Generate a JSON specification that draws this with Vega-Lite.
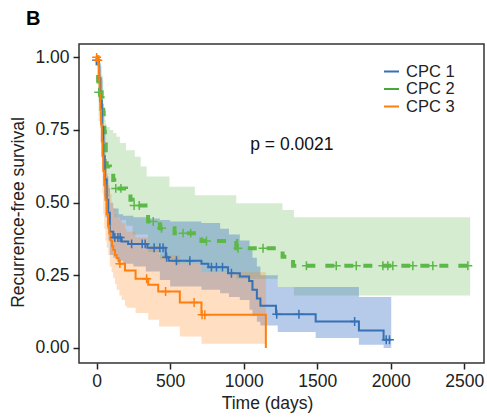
{
  "$schema": "https://vega.github.io/schema/vega-lite/v6.json",
  "width": 405,
  "height": 319,
  "autosize": {"type": "none"},
  "padding": {"left": 79, "top": 44, "right": 3, "bottom": 55},
  "background": "white",
  "title": {"text": "B", "anchor": "start", "frame": "group", "dx": -53, "dy": 20, "fontSize": 20, "fontWeight": "bold", "font": "Liberation Sans", "color": "#000", "baseline": "alphabetic", "offset": 19},
  "datasets": {
    "curve": [
      {"g": "CPC 1", "t": 0, "s": 1.0}, {"g": "CPC 1", "t": 5, "s": 0.985}, {"g": "CPC 1", "t": 15, "s": 0.93}, {"g": "CPC 1", "t": 25, "s": 0.85}, {"g": "CPC 1", "t": 35, "s": 0.76}, {"g": "CPC 1", "t": 45, "s": 0.66}, {"g": "CPC 1", "t": 55, "s": 0.58}, {"g": "CPC 1", "t": 68, "s": 0.51}, {"g": "CPC 1", "t": 79, "s": 0.465}, {"g": "CPC 1", "t": 90, "s": 0.40}, {"g": "CPC 1", "t": 113, "s": 0.38}, {"g": "CPC 1", "t": 170, "s": 0.366}, {"g": "CPC 1", "t": 215, "s": 0.358}, {"g": "CPC 1", "t": 345, "s": 0.345}, {"g": "CPC 1", "t": 470, "s": 0.312}, {"g": "CPC 1", "t": 490, "s": 0.30}, {"g": "CPC 1", "t": 713, "s": 0.29}, {"g": "CPC 1", "t": 760, "s": 0.278}, {"g": "CPC 1", "t": 894, "s": 0.257}, {"g": "CPC 1", "t": 974, "s": 0.246}, {"g": "CPC 1", "t": 1037, "s": 0.23}, {"g": "CPC 1", "t": 1060, "s": 0.20}, {"g": "CPC 1", "t": 1090, "s": 0.17}, {"g": "CPC 1", "t": 1114, "s": 0.145}, {"g": "CPC 1", "t": 1220, "s": 0.116}, {"g": "CPC 1", "t": 1490, "s": 0.091}, {"g": "CPC 1", "t": 1784, "s": 0.060}, {"g": "CPC 1", "t": 1952, "s": 0.028}, {"g": "CPC 1", "t": 2004, "s": 0.028},
      {"g": "CPC 2", "t": 0, "s": 1.0}, {"g": "CPC 2", "t": 6, "s": 0.96}, {"g": "CPC 2", "t": 10, "s": 0.92}, {"g": "CPC 2", "t": 13, "s": 0.88}, {"g": "CPC 2", "t": 34, "s": 0.86}, {"g": "CPC 2", "t": 40, "s": 0.84}, {"g": "CPC 2", "t": 45, "s": 0.81}, {"g": "CPC 2", "t": 48, "s": 0.78}, {"g": "CPC 2", "t": 52, "s": 0.744}, {"g": "CPC 2", "t": 56, "s": 0.70}, {"g": "CPC 2", "t": 62, "s": 0.66}, {"g": "CPC 2", "t": 68, "s": 0.624}, {"g": "CPC 2", "t": 90, "s": 0.60}, {"g": "CPC 2", "t": 113, "s": 0.578}, {"g": "CPC 2", "t": 120, "s": 0.549}, {"g": "CPC 2", "t": 200, "s": 0.53}, {"g": "CPC 2", "t": 230, "s": 0.51}, {"g": "CPC 2", "t": 245, "s": 0.49}, {"g": "CPC 2", "t": 350, "s": 0.435}, {"g": "CPC 2", "t": 430, "s": 0.412}, {"g": "CPC 2", "t": 530, "s": 0.395}, {"g": "CPC 2", "t": 713, "s": 0.368}, {"g": "CPC 2", "t": 950, "s": 0.343}, {"g": "CPC 2", "t": 1265, "s": 0.314}, {"g": "CPC 2", "t": 1336, "s": 0.283}, {"g": "CPC 2", "t": 2541, "s": 0.283},
      {"g": "CPC 3", "t": 0, "s": 1.0}, {"g": "CPC 3", "t": 11, "s": 0.98}, {"g": "CPC 3", "t": 15, "s": 0.93}, {"g": "CPC 3", "t": 20, "s": 0.88}, {"g": "CPC 3", "t": 25, "s": 0.82}, {"g": "CPC 3", "t": 30, "s": 0.77}, {"g": "CPC 3", "t": 35, "s": 0.71}, {"g": "CPC 3", "t": 40, "s": 0.66}, {"g": "CPC 3", "t": 45, "s": 0.61}, {"g": "CPC 3", "t": 52, "s": 0.56}, {"g": "CPC 3", "t": 60, "s": 0.51}, {"g": "CPC 3", "t": 68, "s": 0.46}, {"g": "CPC 3", "t": 78, "s": 0.42}, {"g": "CPC 3", "t": 86, "s": 0.395}, {"g": "CPC 3", "t": 95, "s": 0.37}, {"g": "CPC 3", "t": 105, "s": 0.35}, {"g": "CPC 3", "t": 113, "s": 0.337}, {"g": "CPC 3", "t": 125, "s": 0.32}, {"g": "CPC 3", "t": 136, "s": 0.309}, {"g": "CPC 3", "t": 148, "s": 0.30}, {"g": "CPC 3", "t": 155, "s": 0.29}, {"g": "CPC 3", "t": 193, "s": 0.266}, {"g": "CPC 3", "t": 265, "s": 0.238}, {"g": "CPC 3", "t": 351, "s": 0.217}, {"g": "CPC 3", "t": 419, "s": 0.194}, {"g": "CPC 3", "t": 566, "s": 0.156}, {"g": "CPC 3", "t": 713, "s": 0.114}, {"g": "CPC 3", "t": 1151, "s": 0.0}
    ],
    "band": [
      {"g": "CPC 1", "t": 0, "lo": 1, "hi": 1}, {"g": "CPC 1", "t": 20, "lo": 0.86, "hi": 0.98}, {"g": "CPC 1", "t": 30, "lo": 0.76, "hi": 0.93}, {"g": "CPC 1", "t": 40, "lo": 0.64, "hi": 0.84}, {"g": "CPC 1", "t": 50, "lo": 0.52, "hi": 0.74}, {"g": "CPC 1", "t": 60, "lo": 0.45, "hi": 0.65}, {"g": "CPC 1", "t": 70, "lo": 0.41, "hi": 0.59}, {"g": "CPC 1", "t": 80, "lo": 0.37, "hi": 0.55}, {"g": "CPC 1", "t": 90, "lo": 0.32, "hi": 0.50}, {"g": "CPC 1", "t": 113, "lo": 0.31, "hi": 0.48}, {"g": "CPC 1", "t": 150, "lo": 0.30, "hi": 0.46}, {"g": "CPC 1", "t": 180, "lo": 0.29, "hi": 0.455}, {"g": "CPC 1", "t": 250, "lo": 0.28, "hi": 0.45}, {"g": "CPC 1", "t": 335, "lo": 0.263, "hi": 0.445}, {"g": "CPC 1", "t": 430, "lo": 0.234, "hi": 0.44}, {"g": "CPC 1", "t": 500, "lo": 0.211, "hi": 0.435}, {"g": "CPC 1", "t": 713, "lo": 0.20, "hi": 0.43}, {"g": "CPC 1", "t": 840, "lo": 0.188, "hi": 0.41}, {"g": "CPC 1", "t": 900, "lo": 0.175, "hi": 0.39}, {"g": "CPC 1", "t": 974, "lo": 0.165, "hi": 0.37}, {"g": "CPC 1", "t": 1040, "lo": 0.131, "hi": 0.34}, {"g": "CPC 1", "t": 1060, "lo": 0.11, "hi": 0.31}, {"g": "CPC 1", "t": 1090, "lo": 0.09, "hi": 0.28}, {"g": "CPC 1", "t": 1114, "lo": 0.077, "hi": 0.25}, {"g": "CPC 1", "t": 1232, "lo": 0.055, "hi": 0.21}, {"g": "CPC 1", "t": 1490, "lo": 0.034, "hi": 0.21}, {"g": "CPC 1", "t": 1784, "lo": 0.011, "hi": 0.175}, {"g": "CPC 1", "t": 1952, "lo": 0.0, "hi": 0.175}, {"g": "CPC 1", "t": 2004, "lo": 0.0, "hi": 0.175},
      {"g": "CPC 2", "t": 0, "lo": 1, "hi": 1}, {"g": "CPC 2", "t": 10, "lo": 0.85, "hi": 1.0}, {"g": "CPC 2", "t": 13, "lo": 0.78, "hi": 0.97}, {"g": "CPC 2", "t": 34, "lo": 0.76, "hi": 0.94}, {"g": "CPC 2", "t": 40, "lo": 0.73, "hi": 0.92}, {"g": "CPC 2", "t": 45, "lo": 0.70, "hi": 0.80}, {"g": "CPC 2", "t": 52, "lo": 0.64, "hi": 0.80}, {"g": "CPC 2", "t": 56, "lo": 0.59, "hi": 0.784}, {"g": "CPC 2", "t": 62, "lo": 0.55, "hi": 0.77}, {"g": "CPC 2", "t": 68, "lo": 0.52, "hi": 0.76}, {"g": "CPC 2", "t": 90, "lo": 0.50, "hi": 0.75}, {"g": "CPC 2", "t": 113, "lo": 0.475, "hi": 0.74}, {"g": "CPC 2", "t": 120, "lo": 0.45, "hi": 0.74}, {"g": "CPC 2", "t": 135, "lo": 0.45, "hi": 0.727}, {"g": "CPC 2", "t": 158, "lo": 0.44, "hi": 0.705}, {"g": "CPC 2", "t": 200, "lo": 0.42, "hi": 0.68}, {"g": "CPC 2", "t": 245, "lo": 0.39, "hi": 0.68}, {"g": "CPC 2", "t": 260, "lo": 0.39, "hi": 0.658}, {"g": "CPC 2", "t": 300, "lo": 0.39, "hi": 0.624}, {"g": "CPC 2", "t": 340, "lo": 0.39, "hi": 0.59}, {"g": "CPC 2", "t": 350, "lo": 0.33, "hi": 0.59}, {"g": "CPC 2", "t": 430, "lo": 0.305, "hi": 0.59}, {"g": "CPC 2", "t": 495, "lo": 0.305, "hi": 0.555}, {"g": "CPC 2", "t": 530, "lo": 0.29, "hi": 0.555}, {"g": "CPC 2", "t": 668, "lo": 0.29, "hi": 0.525}, {"g": "CPC 2", "t": 713, "lo": 0.26, "hi": 0.525}, {"g": "CPC 2", "t": 950, "lo": 0.238, "hi": 0.498}, {"g": "CPC 2", "t": 1232, "lo": 0.21, "hi": 0.498}, {"g": "CPC 2", "t": 1264, "lo": 0.21, "hi": 0.475}, {"g": "CPC 2", "t": 1342, "lo": 0.18, "hi": 0.45}, {"g": "CPC 2", "t": 2541, "lo": 0.18, "hi": 0.45},
      {"g": "CPC 3", "t": 0, "lo": 1, "hi": 1}, {"g": "CPC 3", "t": 11, "lo": 0.94, "hi": 1.0}, {"g": "CPC 3", "t": 20, "lo": 0.80, "hi": 0.96}, {"g": "CPC 3", "t": 30, "lo": 0.66, "hi": 0.88}, {"g": "CPC 3", "t": 40, "lo": 0.53, "hi": 0.80}, {"g": "CPC 3", "t": 45, "lo": 0.46, "hi": 0.76}, {"g": "CPC 3", "t": 52, "lo": 0.41, "hi": 0.71}, {"g": "CPC 3", "t": 60, "lo": 0.37, "hi": 0.65}, {"g": "CPC 3", "t": 68, "lo": 0.345, "hi": 0.60}, {"g": "CPC 3", "t": 79, "lo": 0.32, "hi": 0.56}, {"g": "CPC 3", "t": 90, "lo": 0.28, "hi": 0.53}, {"g": "CPC 3", "t": 102, "lo": 0.26, "hi": 0.50}, {"g": "CPC 3", "t": 113, "lo": 0.24, "hi": 0.48}, {"g": "CPC 3", "t": 125, "lo": 0.22, "hi": 0.46}, {"g": "CPC 3", "t": 136, "lo": 0.20, "hi": 0.45}, {"g": "CPC 3", "t": 155, "lo": 0.18, "hi": 0.44}, {"g": "CPC 3", "t": 170, "lo": 0.165, "hi": 0.43}, {"g": "CPC 3", "t": 193, "lo": 0.145, "hi": 0.41}, {"g": "CPC 3", "t": 204, "lo": 0.138, "hi": 0.40}, {"g": "CPC 3", "t": 265, "lo": 0.12, "hi": 0.38}, {"g": "CPC 3", "t": 351, "lo": 0.097, "hi": 0.35}, {"g": "CPC 3", "t": 425, "lo": 0.074, "hi": 0.32}, {"g": "CPC 3", "t": 566, "lo": 0.039, "hi": 0.29}, {"g": "CPC 3", "t": 713, "lo": 0.014, "hi": 0.26}, {"g": "CPC 3", "t": 1151, "lo": 0.014, "hi": 0.26}
    ],
    "cens": [
      {"g": "CPC 1", "t": 0, "s": 0.99}, {"g": "CPC 1", "t": 124, "s": 0.38}, {"g": "CPC 1", "t": 145, "s": 0.38}, {"g": "CPC 1", "t": 160, "s": 0.38}, {"g": "CPC 1", "t": 238, "s": 0.358}, {"g": "CPC 1", "t": 310, "s": 0.358}, {"g": "CPC 1", "t": 330, "s": 0.358}, {"g": "CPC 1", "t": 391, "s": 0.345}, {"g": "CPC 1", "t": 430, "s": 0.345}, {"g": "CPC 1", "t": 452, "s": 0.345}, {"g": "CPC 1", "t": 476, "s": 0.312}, {"g": "CPC 1", "t": 543, "s": 0.30}, {"g": "CPC 1", "t": 634, "s": 0.30}, {"g": "CPC 1", "t": 781, "s": 0.278}, {"g": "CPC 1", "t": 815, "s": 0.278}, {"g": "CPC 1", "t": 856, "s": 0.278}, {"g": "CPC 1", "t": 917, "s": 0.257}, {"g": "CPC 1", "t": 1225, "s": 0.116}, {"g": "CPC 1", "t": 1376, "s": 0.116}, {"g": "CPC 1", "t": 1755, "s": 0.091}, {"g": "CPC 1", "t": 1970, "s": 0.028}, {"g": "CPC 1", "t": 1992, "s": 0.028},
      {"g": "CPC 2", "t": 14, "s": 0.88}, {"g": "CPC 2", "t": 130, "s": 0.549}, {"g": "CPC 2", "t": 165, "s": 0.549}, {"g": "CPC 2", "t": 255, "s": 0.49}, {"g": "CPC 2", "t": 290, "s": 0.49}, {"g": "CPC 2", "t": 385, "s": 0.435}, {"g": "CPC 2", "t": 441, "s": 0.412}, {"g": "CPC 2", "t": 588, "s": 0.395}, {"g": "CPC 2", "t": 640, "s": 0.395}, {"g": "CPC 2", "t": 747, "s": 0.368}, {"g": "CPC 2", "t": 962, "s": 0.343}, {"g": "CPC 2", "t": 1132, "s": 0.343}, {"g": "CPC 2", "t": 1427, "s": 0.283}, {"g": "CPC 2", "t": 1630, "s": 0.283}, {"g": "CPC 2", "t": 1766, "s": 0.283}, {"g": "CPC 2", "t": 1947, "s": 0.283}, {"g": "CPC 2", "t": 1981, "s": 0.283}, {"g": "CPC 2", "t": 2015, "s": 0.283}, {"g": "CPC 2", "t": 2151, "s": 0.283}, {"g": "CPC 2", "t": 2287, "s": 0.283}, {"g": "CPC 2", "t": 2525, "s": 0.283},
      {"g": "CPC 3", "t": 0, "s": 1.0}, {"g": "CPC 3", "t": 8, "s": 0.99}, {"g": "CPC 3", "t": 158, "s": 0.29}, {"g": "CPC 3", "t": 340, "s": 0.238}, {"g": "CPC 3", "t": 469, "s": 0.194}, {"g": "CPC 3", "t": 663, "s": 0.156}, {"g": "CPC 3", "t": 717, "s": 0.114}, {"g": "CPC 3", "t": 736, "s": 0.114}
    ],
    "note": [{"t": 1328, "s": 0.70, "label": "p = 0.0021"}]
  },
  "encoding": {
    "x": {"field": "t", "type": "quantitative", "scale": {"domain": [-120, 2635], "nice": false, "zero": false},
      "axis": {"values": [0, 500, 1000, 1500, 2000, 2500], "format": "d", "title": "Time (days)", "labelPadding": 3, "titlePadding": 5, "titleX": 188}},
    "y": {"field": "s", "type": "quantitative", "scale": {"domain": [-0.052, 1.046], "nice": false, "zero": false},
      "axis": {"values": [0, 0.25, 0.5, 0.75, 1], "format": ".2f", "title": "Recurrence-free survival", "labelPadding": 4, "titlePadding": 7, "titleY": 168}}
  },
  "layer": [
    {
      "data": {"name": "band"},
      "transform": [{"filter": "datum.g === 'CPC 2'"}],
      "mark": {"type": "area", "interpolate": "step-after", "color": "#5ab446", "opacity": 0.25, "clip": true},
      "encoding": {"y": {"field": "lo", "type": "quantitative"}, "y2": {"field": "hi"}}
    },
    {
      "data": {"name": "band"},
      "transform": [{"filter": "datum.g === 'CPC 1'"}],
      "mark": {"type": "area", "interpolate": "step-after", "color": "#3a6fc4", "opacity": 0.37, "clip": true},
      "encoding": {"y": {"field": "lo", "type": "quantitative"}, "y2": {"field": "hi"}}
    },
    {
      "data": {"name": "band"},
      "transform": [{"filter": "datum.g === 'CPC 3'"}],
      "mark": {"type": "area", "interpolate": "step-after", "color": "#ff7f0e", "opacity": 0.26, "clip": true},
      "encoding": {"y": {"field": "lo", "type": "quantitative"}, "y2": {"field": "hi"}}
    },
    {
      "data": {"name": "curve"},
      "transform": [{"filter": "datum.g === 'CPC 2'"}],
      "mark": {"type": "line", "interpolate": "step-after", "strokeWidth": 4, "strokeDash": [9, 10], "color": "#5cb848", "clip": true},
      "encoding": {}
    },
    {
      "data": {"name": "curve"},
      "transform": [{"filter": "datum.g !== 'CPC 2'"}],
      "mark": {"type": "line", "interpolate": "step-after", "strokeWidth": 2, "clip": true},
      "encoding": {
        "stroke": {"field": "g", "type": "nominal",
          "scale": {"domain": ["CPC 1", "CPC 2", "CPC 3"], "range": ["#3670b5", "#4aa83a", "#ff7f0e"]},
          "legend": {"title": null, "symbolDash": [1, 0]}}
      }
    },
    {
      "data": {"name": "cens"},
      "mark": {"type": "point", "shape": "M-1,0L1,0M0,-1L0,1", "size": 80, "strokeWidth": 1.5, "filled": false, "opacity": 1, "clip": true},
      "encoding": {
        "stroke": {"field": "g", "type": "nominal", "scale": {"domain": ["CPC 1", "CPC 2", "CPC 3"], "range": ["#3670b5", "#5cb848", "#ff7f0e"]}, "legend": null}
      }
    },
    {
      "data": {"name": "note"},
      "mark": {"type": "text", "font": "Liberation Sans", "fontSize": 17.5, "color": "#111"},
      "encoding": {"text": {"field": "label"}}
    }
  ],
  "resolve": {"scale": {"stroke": "independent"}},
  "config": {
    "view": {"stroke": "#333", "strokeWidth": 1.5},
    "axis": {"domain": false, "grid": false, "labelFont": "Liberation Sans", "titleFont": "Liberation Sans", "labelFontSize": 17.5, "titleFontSize": 17.5, "labelColor": "#222", "titleColor": "#222", "tickColor": "#222", "tickSize": 6, "tickWidth": 1.5, "titleFontWeight": "normal"},
    "legend": {"orient": "none", "legendX": 304, "legendY": 19, "symbolType": "stroke", "symbolStrokeWidth": 2, "symbolSize": 225, "labelFont": "Liberation Sans", "labelFontSize": 16.5, "labelColor": "#222", "rowPadding": 0.5, "labelOffset": 6, "padding": 0}
  }
}
